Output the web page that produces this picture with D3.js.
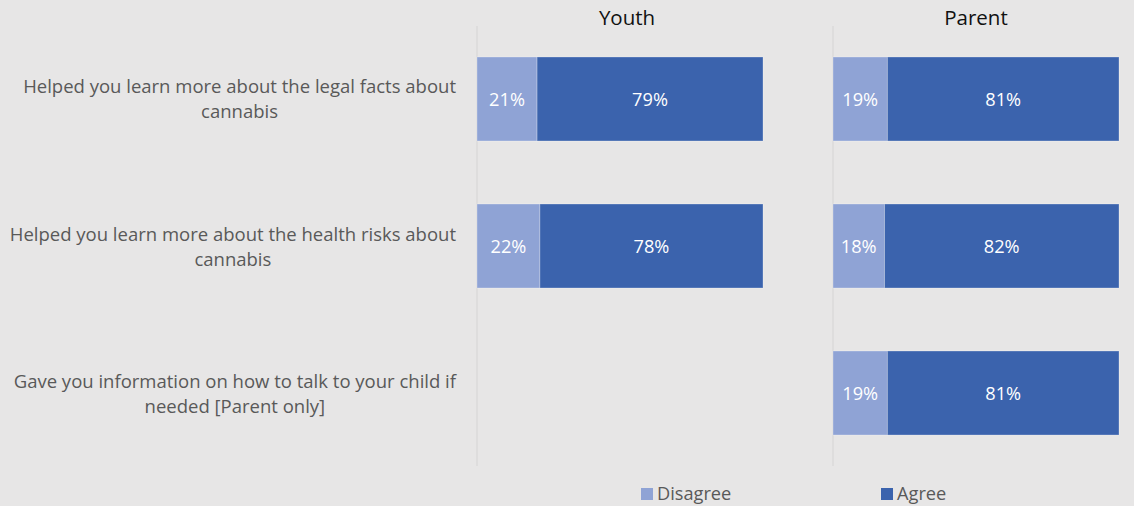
<!DOCTYPE html>
<html>
<head>
<meta charset="utf-8">
<script src="https://cdn.jsdelivr.net/npm/d3@7"></script>
<style>
  html, body { margin: 0; padding: 0; background: #e7e6e6; }
  svg { display: block; }
  text { font-family: "Open Sans", "Noto Sans", sans-serif; }
</style>
</head>
<body>
<svg id="chart" width="1134" height="506"></svg>
<script>
// Survey statements (rows)
const categories = [
  ["Helped you learn more about the legal facts about", "cannabis"],
  ["Helped you learn more about the health risks about", "cannabis"],
  ["Gave you information on how to talk to your child if", "needed [Parent only]"]
];
const categoryKeys = ["legal", "health", "talk"];

// Respondent groups (panels)
const groups = ["Youth", "Parent"];

// Response shares in percent, per group, in row order (null = not asked)
const youthDisagree  = [21, 22, null];
const youthAgree     = [79, 78, null];
const parentDisagree = [19, 18, 19];
const parentAgree    = [81, 82, 81];

const seriesNames = ["Disagree", "Agree"];
const seriesColors = ["#8fa3d5", "#3b63ad"];

const svg = d3.select("#chart");
const W = 1134, H = 506;

svg.append("rect").attr("width", W).attr("height", H).attr("fill", "#e7e6e6");

// Shared row scale
const y = d3.scaleBand()
  .domain(categoryKeys)
  .range([26, 466])
  .paddingInner(0.4286)
  .paddingOuter(0.2108);

const panels = [
  { name: groups[0], x0: 477, x1: 763, titleX: 627, disagree: youthDisagree,  agree: youthAgree },
  { name: groups[1], x0: 833, x1: 1119, titleX: 976, disagree: parentDisagree, agree: parentAgree }
];

panels.forEach(p => {
  const x = d3.scaleLinear().domain([0, 100]).range([p.x0, p.x1]);
  const g = svg.append("g");

  // vertical category axis line
  g.append("line")
    .attr("x1", x(0)).attr("x2", x(0))
    .attr("y1", y.range()[0]).attr("y2", y.range()[1])
    .attr("stroke", "#d9d9d9").attr("stroke-width", 1.3);

  // panel title
  g.append("text")
    .attr("x", p.titleX).attr("y", 25)
    .attr("text-anchor", "middle")
    .attr("font-size", 20.5)
    .attr("fill", "#111")
    .text(p.name);

  const rows = categoryKeys.map((k, i) => ({
    key: k,
    values: [p.disagree[i], p.agree[i]]
  })).filter(r => r.values[0] != null);

  rows.forEach(r => {
    let acc = 0;
    r.values.forEach((v, si) => {
      const start = acc;
      acc += v;
      g.append("rect")
        .attr("x", x(start))
        .attr("y", y(r.key))
        .attr("width", x(acc) - x(start))
        .attr("height", y.bandwidth())
        .attr("fill", seriesColors[si])
        .attr("stroke", "#ffffff")
        .attr("stroke-opacity", 0.35)
        .attr("stroke-width", 0.8);
      g.append("text")
        .attr("x", (x(start) + x(acc)) / 2)
        .attr("y", y(r.key) + y.bandwidth() / 2 + 7)
        .attr("text-anchor", "middle")
        .attr("font-size", 18.2)
        .attr("fill", "#ffffff")
        .text(v + "%");
    });
  });
});

// Category labels: wrapped lines centred within a right-aligned block
const labelRight = 456;
categoryKeys.forEach((k, i) => {
  const cy = y(k) + y.bandwidth() / 2;
  const lines = categories[i];
  const g = svg.append("g");
  const texts = lines.map((ln, li) => g.append("text")
    .attr("y", cy + (li - (lines.length - 1) / 2) * 25 + 7)
    .attr("font-size", 18.5)
    .attr("fill", "#595959")
    .attr("text-anchor", "middle")
    .text(ln));
  const widths = texts.map(t => t.node().getComputedTextLength());
  const blockW = d3.max(widths);
  texts.forEach(t => t.attr("x", labelRight - blockW / 2));
});

// Legend
const legendX = [641, 881];
seriesNames.forEach((s, i) => {
  svg.append("rect")
    .attr("x", legendX[i]).attr("y", 488)
    .attr("width", 12).attr("height", 12)
    .attr("fill", seriesColors[i]);
  svg.append("text")
    .attr("x", legendX[i] + 16).attr("y", 500)
    .attr("font-size", 18.2)
    .attr("fill", "#595959")
    .text(s);
});
</script>
</body>
</html>
